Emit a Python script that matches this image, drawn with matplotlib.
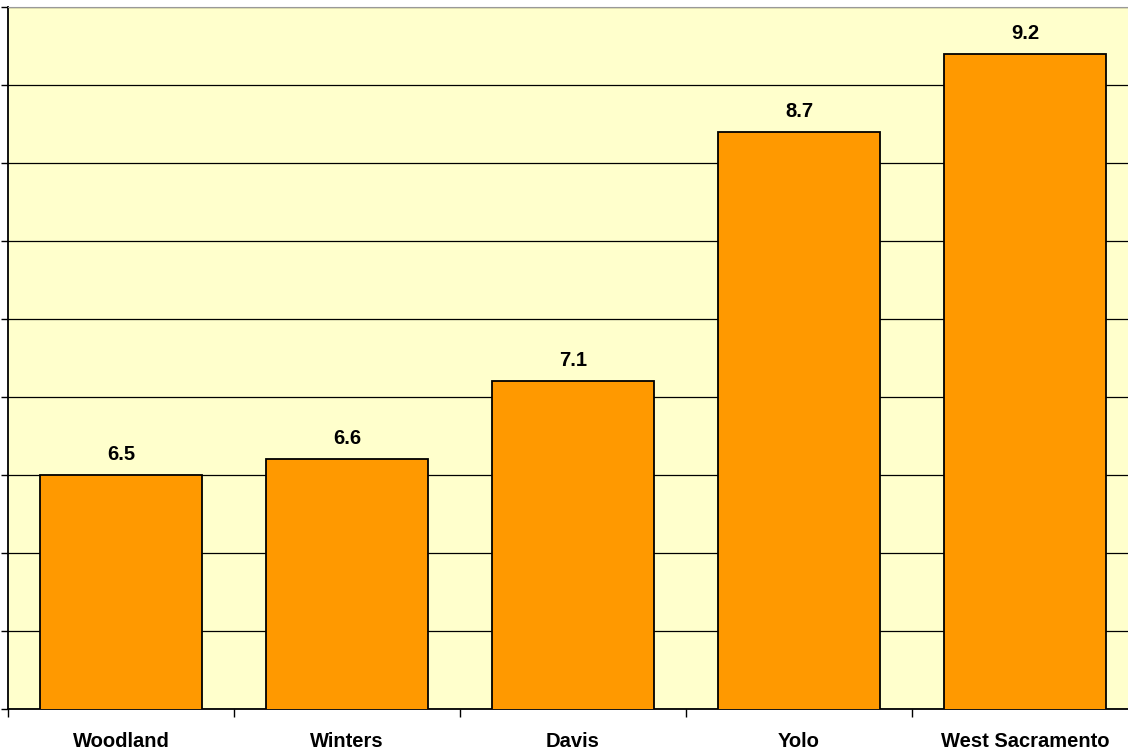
import matplotlib.pyplot as plt
import numpy as np

plt.rcParams["font.family"] = ["Liberation Sans", "DejaVu Sans"]

cidades = ["Woodland", "Winters", "Davis", "Yolo", "West Sacramento"]
valores = [6.5, 6.6, 7.1, 8.7, 9.2]

x = np.arange(len(cidades))

fig = plt.figure(figsize=(11.28, 7.53), dpi=100)
# plot area runs past the right edge of the figure
ax = fig.add_axes([8 / 1128, 44 / 753, 1130 / 1128, 702 / 753])
ax.set_facecolor("#FFFFCC")

ax.bar(x, valores, width=0.717, color="#FF9900", edgecolor="black",
       linewidth=1.3, zorder=3)

for xi, v in zip(x, valores):
    ax.annotate(f"{v:.1f}", (xi, v), xytext=(0, 8), textcoords="offset points",
                ha="center", va="bottom", fontsize=14.5, fontweight="bold")

ax.set_xlim(-0.5, len(cidades) - 0.5)
ax.set_ylim(5, 9.5)

ax.set_yticks(np.arange(5, 9.51, 0.5))
ax.set_yticklabels([])
ax.tick_params(axis="y", direction="out", length=5, width=1)
ax.grid(axis="y", color="black", linewidth=0.9, zorder=0)

ax.set_xticks(x)
ax.set_xticklabels(cidades, fontsize=14.5, fontweight="bold")
ax.set_xticks(np.arange(-0.5, len(cidades)), minor=True)
ax.tick_params(axis="x", which="major", length=0, pad=16.5)
ax.tick_params(axis="x", which="minor", direction="out", length=6, width=1)

ax.spines["top"].set_color("#999999")
ax.spines["right"].set_visible(False)
ax.spines["left"].set_linewidth(1.3)
ax.spines["bottom"].set_linewidth(1.3)

fig.savefig("out.png", dpi=100)
plt.close(fig)
